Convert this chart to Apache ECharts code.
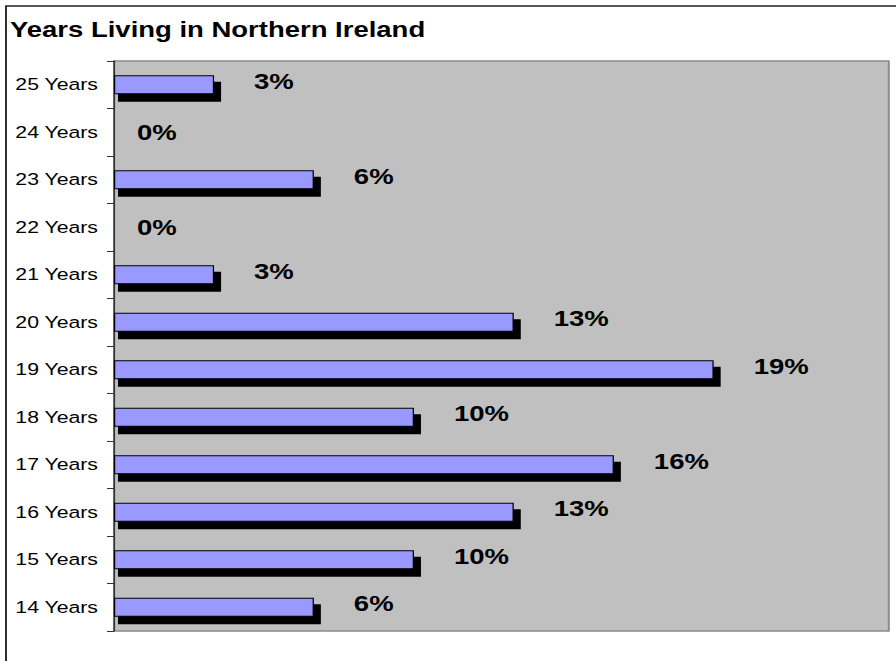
<!DOCTYPE html>
<html>
<head>
<meta charset="utf-8">
<title>Years Living in Northern Ireland</title>
<script src="https://cdn.jsdelivr.net/npm/echarts@6/dist/echarts.min.js"></script>
<style>
  html, body { margin: 0; padding: 0; background: #fff; overflow: hidden; }
  /* The chart is laid out on a narrower canvas and widened to the page width */
  #chart { width: 717px; height: 661px; transform: scaleX(1.2497); transform-origin: 0 0; }
</style>
</head>
<body>
<div id="chart"></div>
<script>
// Respondents by years lived in Northern Ireland (share of 31 responses, %), 14 -> 25 years
const categories = ['14 Years', '15 Years', '16 Years', '17 Years', '18 Years', '19 Years',
                    '20 Years', '21 Years', '22 Years', '23 Years', '24 Years', '25 Years'];
const shares = [6.45, 9.68, 12.90, 16.13, 9.68, 19.35, 12.90, 3.23, 0, 6.45, 0, 3.23];
const xMax = 25;

const FONT = '"Liberation Sans", Arial, sans-serif';

const chart = echarts.init(document.getElementById('chart'), null, { renderer: 'svg' });

// zero rows get no outline and a label sitting near the axis
const barData = shares.map(v => {
  if (v === 0) {
    return {
      value: v,
      itemStyle: { borderWidth: 0 },
      label: { distance: 18.4, offset: [0, 0] }
    };
  }
  return { value: v };
});

const shadowData = shares.map((v, i) => [v, i]);

chart.setOption({
  animation: false,
  title: {
    text: 'Years Living in Northern Ireland',
    left: 8,
    top: 18,
    padding: 0,
    textStyle: { fontFamily: FONT, fontSize: 22, fontWeight: 'bold', color: '#000' }
  },
  grid: {
    left: 91.2,
    right: 5.8,
    top: 61,
    bottom: 30,
    show: true,
    backgroundColor: '#C0C0C0',
    borderColor: '#8a8a8a',
    borderWidth: 1.6
  },
  xAxis: {
    type: 'value',
    min: 0,
    max: xMax,
    show: false
  },
  yAxis: {
    type: 'category',
    data: categories,
    axisLine: { show: true, lineStyle: { color: '#333', width: 1.2 } },
    axisTick: { show: true, length: 5.6, lineStyle: { color: '#333', width: 1 } },
    axisLabel: { fontFamily: FONT, fontSize: 17, color: '#000', margin: 12.8 },
    splitLine: { show: false }
  },
  graphic: [{
    // chart frame
    type: 'rect',
    shape: { x: 4.8, y: 6, width: 2000, height: 2000 },
    style: { fill: 'none', stroke: '#222', lineWidth: 1.5 },
    silent: true,
    z: 100
  }],
  series: [
    {
      // drop shadow behind each bar
      type: 'custom',
      data: shadowData,
      encode: { x: 0, y: 1 },
      z: 1,
      silent: true,
      renderItem: function (params, api) {
        const v = api.value(0);
        if (!v) return null;
        const cat = api.value(1);
        const p0 = api.coord([0, cat]);
        const p1 = api.coord([v, cat]);
        return {
          type: 'rect',
          shape: { x: p0[0] + 3.2, y: p0[1] - 3, width: p1[0] - p0[0] + 2.4, height: 20 },
          style: { fill: '#000' }
        };
      }
    },
    {
      type: 'bar',
      data: barData,
      barWidth: 19,
      z: 2,
      itemStyle: { color: '#9999FF', borderColor: '#000', borderWidth: 1 },
      label: {
        show: true,
        position: 'right',
        distance: 32,
        offset: [0, -4],
        fontFamily: FONT,
        fontSize: 22,
        fontWeight: 'bold',
        color: '#000',
        formatter: p => Math.round(p.value) + '%'
      }
    }
  ]
});
</script>
</body>
</html>
